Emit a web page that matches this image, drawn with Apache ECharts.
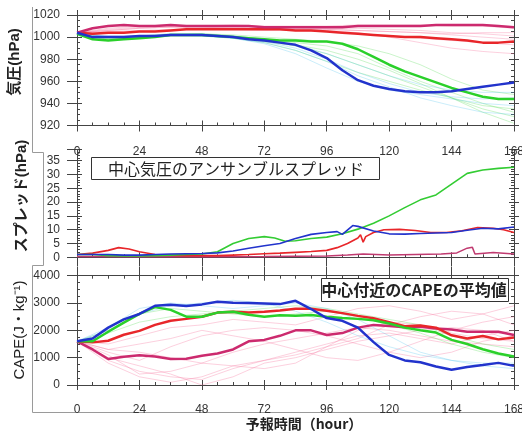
<!DOCTYPE html>
<html><head><meta charset="utf-8">
<script src="https://cdn.jsdelivr.net/npm/echarts@6/dist/echarts.min.js"></script>
<style>html,body{margin:0;padding:0;background:#fff}#c{width:522px;height:431px}</style>
</head><body><div id="c"></div>
<script>
// ---------- data ----------
const hours6 = [0,6,12,18,24,30,36,42,48,54,60,66,72,78,84,90,96,102,108,114,120,126,132,138,144,150,156,162,168];
const hours12 = [0,12,24,36,48,60,72,84,96,108,120,132,144,156,168];
const hourTicks = [0,24,48,72,96,120,144,168];

// panel 1: central pressure (hPa), thick lines
const pressMagenta = [1004,1008,1010,1011,1010,1010,1011,1010,1010,1010,1010,1010,1009,1009,1009,1009,1009,1009,1010,1010,1010,1010,1010,1011,1011,1011,1011,1010,1009];
const pressRed     = [1004,1003,1004,1004,1005,1005,1006,1007,1007,1007,1007,1007,1007,1007,1006,1006,1005,1004,1003,1002,1001,1000,1000,999,998,997,995,995,996];
const pressGreen   = [1003,998,997,998,999,1000,1002,1002,1002,1001,1000,999,998,997,997,996,996,994,989,982,975,969,964,959,954,950,946,944,944];
const pressBlue    = [1004,1000,1000,1000,1001,1001,1002,1002,1002,1001,1000,998,997,995,993,988,981,970,961,956,953,951,950,950,951,953,955,957,959];
// panel 1: ensemble members (12 h)
const pressPinkMembers = [
  [1004,1006,1008,1009,1009,1009,1008,1008,1007,1006,1005,1004,1002,1000,998],
  [1004,1008,1010,1010,1010,1010,1009,1009,1008,1008,1007,1006,1004,1003,1001],
  [1004,1005,1006,1007,1008,1008,1008,1007,1006,1004,1000,995,990,987,985],
  [1004,1007,1009,1010,1010,1011,1010,1010,1010,1011,1011,1011,1010,1010,1008],
  [1004,1004,1005,1006,1007,1007,1006,1006,1005,1003,1001,999,997,995,993],
  [1004,1006,1008,1009,1009,1008,1007,1007,1007,1006,1005,1004,1003,1004,1004]
];
const pressGreenMembers = [
  [1003,998,1000,1002,1002,1000,996,992,985,975,965,955,945,935,928],
  [1003,999,1001,1003,1003,1001,998,995,992,985,972,960,950,940,932],
  [1003,997,999,1001,1001,999,995,988,978,968,960,952,945,938,935],
  [1003,998,1000,1002,1003,1002,1000,998,996,992,985,975,962,952,948],
  [1003,999,1000,1002,1002,1000,997,993,988,980,970,958,945,932,922]
];
const pressCyanMembers = [
  [1004,1000,1000,1002,1002,1000,996,990,980,968,958,950,946,944,945],
  [1004,1001,1001,1002,1001,999,994,985,972,960,952,948,944,940,938],
  [1004,1000,1001,1003,1003,1001,998,993,985,975,965,957,952,950,950],
  [1004,1000,1000,1002,1002,999,995,988,978,965,955,945,938,932,930]
];

// panel 2: ensemble spread (hPa), [hour, value]
const spreadGreen = [[0,1],[6,1],[12,0.6],[18,0.5],[24,0.5],[30,0.6],[36,0.8],[42,1],[48,1.2],[54,2],[60,5],[66,6.8],[72,7.5],[76,7],[80,5.8],[84,6],[90,6.8],[96,7.3],[102,8.5],[108,10.2],[114,12.3],[120,15],[126,18],[132,20.8],[138,22.6],[144,26.5],[150,30.4],[156,31.6],[162,32.2],[168,32.6]];
const spreadBlue  = [[0,1],[6,1],[12,1],[18,0.8],[24,0.8],[30,1],[36,1.2],[42,1.3],[48,1.4],[54,1.6],[60,2.3],[66,3.3],[72,4.2],[78,5],[84,6.8],[90,8.3],[96,9],[100,9.3],[102,8.3],[106,11.5],[108,11.2],[114,9.5],[120,8.5],[126,8.4],[132,8.6],[138,8.8],[144,9],[150,9.8],[156,10.5],[162,10.3],[168,11]];
const spreadRed   = [[0,1],[6,1.5],[12,2.5],[16,3.5],[20,3],[24,2],[30,1],[36,0.8],[42,0.6],[48,0.6],[54,0.6],[60,0.8],[66,1],[72,1.3],[78,1.5],[84,1.8],[90,2.1],[96,2.5],[100,3.5],[104,5],[108,7],[109,8.2],[110,5.5],[111,7.5],[114,9],[118,10],[124,10.1],[130,9.7],[136,9],[142,9],[148,9.6],[154,10.8],[160,10.5],[164,10],[168,9]];
const spreadMagenta = [[0,0.3],[24,0.2],[48,0.2],[72,0.3],[96,0.5],[104,0.8],[110,1.2],[120,0.8],[130,1],[140,1.2],[146,1.6],[150,3.3],[152,3.6],[153,1.2],[160,1.7],[168,1.2]];

// panel 3: CAPE near the centre (J/kg), thick lines
const capeBlue    = [1600,1700,2100,2400,2600,2900,2940,2890,2950,3050,3010,3000,2980,2960,3080,2780,2450,2350,2100,1570,1100,900,830,680,560,660,730,810,700];
const capeGreen   = [1600,1600,1950,2280,2600,2850,2750,2500,2500,2650,2680,2570,2500,2550,2530,2560,2500,2450,2420,2370,2250,2100,2000,1920,1650,1500,1310,1150,1040];
const capeRed     = [1600,1560,1620,1840,1980,2200,2350,2420,2500,2650,2680,2650,2680,2730,2790,2790,2720,2630,2530,2440,2300,2150,2180,2100,1820,1700,1790,1670,1740];
const capeMagenta = [1600,1300,950,1030,1090,1040,950,960,1070,1150,1300,1600,1650,1800,2000,2000,1830,1900,2100,2200,2160,2110,2130,2070,2030,1950,1950,1950,1830];
// panel 3: ensemble members (12 h)
const capePinkMembers = [
  [1600,900,500,300,200,600,900,1200,1500,1800,1900,1700,1500,1800,2000],
  [1600,1000,700,400,0,300,800,1000,1300,1600,1800,2000,2100,2000,1600],
  [1600,1300,1200,1000,800,700,900,1100,1400,1700,2200,2500,2700,2600,2200],
  [1600,1100,400,500,800,1200,1500,1700,1900,2100,2000,1800,1600,1500,1400],
  [1600,1200,900,1400,1800,2000,2100,2000,1800,1500,1200,1000,1200,1600,1800],
  [1600,1500,1800,2100,2200,2400,2300,2200,2500,2800,2900,2700,2400,2600,2900],
  [1600,800,300,100,300,700,600,800,1400,2000,2300,2200,1900,1700,1600],
  [1600,1300,1500,1700,2000,1800,1600,1300,1000,900,1200,1600,2000,2300,2500]
];
const capeGreenMembers = [
  [1600,2000,2600,2800,2700,2600,2500,2600,2700,2500,2200,1900,1500,1200,1000],
  [1600,1900,2300,2500,2600,2700,2800,2900,2800,2600,2400,2200,1800,1500,1300]
];
const capeCyanMembers = [
  [1600,2100,2800,3000,2900,2800,2900,3000,2800,2400,1800,1200,900,800,800],
  [1600,2000,2600,2900,3000,3100,3000,2700,2300,1800,1400,1100,900,700,600]
];

// ---------- build ----------
const FONT = '"Liberation Sans", Arial, "Noto Sans CJK JP", sans-serif';
const CJK = '"Noto Sans CJK JP", "Liberation Sans", sans-serif';
const AX = '#444';
const pairs = (xs, ys) => xs.map((x, i) => [x, ys[i]]);

function xAx(grid, pos, kind, len, labels, margin) {
  const a = {type:'value', gridIndex:grid, position:pos, min:0, max:168, interval:24,
    splitLine:{show:false}, minorSplitLine:{show:false}};
  if (kind === 'in') {
    a.axisLine = {show:true, onZero:false, lineStyle:{color:AX, width:1}};
    a.axisTick = {show:true, inside:true, length:5, lineStyle:{color:AX}};
    a.minorTick = {show:true, splitNumber:4, length:3, lineStyle:{color:AX}};
  } else {
    a.axisLine = {show:false, onZero:false};
    a.axisTick = {show:true, inside:false, length:len, lineStyle:{color:AX}};
    a.minorTick = {show:false};
  }
  a.axisLabel = labels ? {show:true, margin:margin, fontSize:12, color:'#333', fontFamily:FONT,
    formatter: v => hourTicks.indexOf(v) >= 0 ? String(v) : ''} : {show:false};
  return a;
}
function yAx(grid, pos, kind, min, max, interval, minorSplit, labels) {
  const a = {type:'value', gridIndex:grid, position:pos, min:min, max:max, interval:interval,
    splitLine:{show:false}, minorSplitLine:{show:false}};
  if (kind === 'in') {
    a.axisLine = {show:true, onZero:false, lineStyle:{color:AX, width:1}};
    a.axisTick = {show:true, inside:true, length:5, lineStyle:{color:AX}};
    a.minorTick = {show:true, splitNumber:minorSplit, length:3, lineStyle:{color:AX}};
  } else {
    a.axisLine = {show:false, onZero:false};
    a.axisTick = {show:true, inside:false, length: pos === 'left' ? 10 : 5, lineStyle:{color:AX}};
    a.minorTick = {show:false};
  }
  a.axisLabel = labels ? {show:true, margin:17, fontSize:12, color:'#333', fontFamily:FONT,
    showMaxLabel: (max % interval === 0),
    formatter: v => (v % interval === 0 ? String(v) : '')} : {show:false};
  return a;
}

const xAxis = [
  xAx(0,'bottom','in',0,true,20), xAx(0,'bottom','out',6), xAx(0,'top','in'), xAx(0,'top','out',5),
  xAx(1,'bottom','in'), xAx(1,'bottom','out',9),
  xAx(2,'top','in'), xAx(2,'top','out',9), xAx(2,'bottom','in',0,true,19), xAx(2,'bottom','out',5)
];
const yAxis = [
  yAx(0,'left','in',920,1020,20,4,true), yAx(0,'left','out',920,1020,20), yAx(0,'right','in',920,1020,20,4), yAx(0,'right','out',920,1020,20),
  yAx(1,'left','in',0,39,5,5,true), yAx(1,'left','out',0,39,5), yAx(1,'right','in',0,39,5,5), yAx(1,'right','out',0,39,5),
  yAx(2,'left','in',0,4000,1000,4,true), yAx(2,'left','out',0,4000,1000), yAx(2,'right','in',0,4000,1000,4), yAx(2,'right','out',0,4000,1000)
];

const series = [];
function faint(arrs, color, xi, yi) {
  arrs.forEach(a => series.push({type:'line', xAxisIndex:xi, yAxisIndex:yi, data:pairs(hours12, a),
    showSymbol:false, silent:true, z:1, lineStyle:{width:1, color:color}}));
}
function line(data, color, width, xi, yi, z) {
  series.push({type:'line', xAxisIndex:xi, yAxisIndex:yi, data:data, showSymbol:false, silent:true,
    z:z || 3, lineStyle:{width:width, color:color}});
}
const PINKF = 'rgba(245,120,160,0.35)', GREENF = 'rgba(90,220,90,0.32)', CYANF = 'rgba(90,200,240,0.32)';
const MAG = '#cc2a6e', RED = '#e8262a', GRN = '#2ad02a', BLU = '#2233cc';

faint(pressPinkMembers, PINKF, 0, 0);
faint(pressGreenMembers, GREENF, 0, 0);
faint(pressCyanMembers, CYANF, 0, 0);
line(pairs(hours6, pressRed), RED, 2.5, 0, 0);
line(pairs(hours6, pressMagenta), MAG, 2.5, 0, 0);
line(pairs(hours6, pressGreen), GRN, 2.5, 0, 0);
line(pairs(hours6, pressBlue), BLU, 2.5, 0, 0);

line(spreadMagenta, '#c03a70', 1.5, 4, 4);
line(spreadRed, RED, 1.6, 4, 4);
line(spreadGreen, '#33cc33', 1.6, 4, 4);
line(spreadBlue, BLU, 1.6, 4, 4);

faint(capePinkMembers, PINKF, 8, 8);
faint(capeGreenMembers, GREENF, 8, 8);
faint(capeCyanMembers, CYANF, 8, 8);
line(pairs(hours6, capeMagenta), MAG, 2.5, 8, 8);
line(pairs(hours6, capeRed), RED, 2.5, 8, 8);
line(pairs(hours6, capeGreen), GRN, 2.5, 8, 8);
line(pairs(hours6, capeBlue), BLU, 2.5, 8, 8);

const vtext = (x, y, text, size, weight) => ({type:'text', x:x, y:y, rotation:Math.PI/2, z:10,
  style:{text:text, fontSize:size, fontWeight:weight, fontFamily:FONT, fill:'#222', align:'center', verticalAlign:'middle'}});

const option = {
  animation:false,
  backgroundColor:'#fff',
  grid:[
    {left:77, width:437, top:15, height:110.5, outerBoundsMode:'none', containLabel:false},
    {left:77, width:437, top:149.6, height:107.7, outerBoundsMode:'none', containLabel:false},
    {left:77, width:437, top:275.7, height:109.3, outerBoundsMode:'none', containLabel:false}
  ],
  xAxis: xAxis,
  yAxis: yAxis,
  series: series,
  graphic: [
    {type:'polyline', z:0, shape:{points:[[32.5,7],[32.5,152.5],[43.5,152.5],[43.5,265.5],[32.5,265.5],[32.5,412.5],[522,412.5]]},
      style:{stroke:'#9a9a9a', fill:null, lineWidth:1}},
    vtext(15, 62, '気圧(hPa)', 15, 'bold'),
    vtext(22, 196, 'スプレッド(hPa)', 15, 'bold'),
    vtext(20, 330, 'CAPE(J・kg⁻¹)', 15, 'normal'),
    {type:'text', x:304, y:424, z:10, style:{text:'予報時間（hour）', fontSize:14, fontWeight:'bold', fontFamily:CJK, fill:'#222', align:'center', verticalAlign:'middle'}},
    {type:'rect', z:10, shape:{x:91.5, y:157.5, width:288, height:22}, style:{stroke:'#333', fill:'#fff', lineWidth:1}},
    {type:'text', x:236, y:168.5, z:11, style:{text:'中心気圧のアンサンブルスプレッド', fontSize:16, fontFamily:CJK, fill:'#222', align:'center', verticalAlign:'middle'}},
    {type:'rect', z:10, shape:{x:321.5, y:278.5, width:187, height:23}, style:{stroke:'#333', fill:'#fff', lineWidth:1}},
    {type:'text', x:414, y:290, z:11, style:{text:'中心付近のCAPEの平均値', fontSize:16, fontWeight:'bold', fontFamily:CJK, fill:'#222', align:'center', verticalAlign:'middle'}}
  ]
};
echarts.init(document.getElementById('c'), null, {renderer:'canvas'}).setOption(option);
</script>
</body></html>
